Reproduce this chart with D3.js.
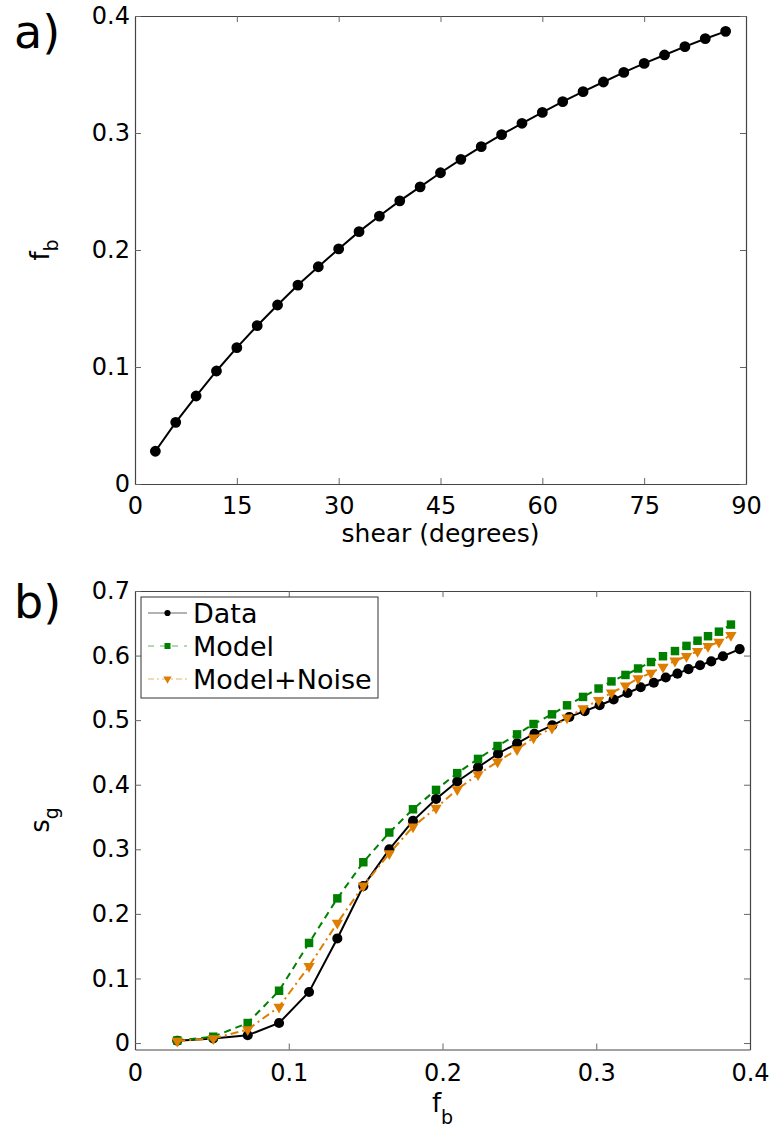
<!DOCTYPE html>
<html>
<head>
<meta charset="utf-8">
<script src="https://cdn.jsdelivr.net/npm/d3@7"></script>
<style>
    body { margin: 0; background: #fff; }
    svg text { font-family: "DejaVu Sans", sans-serif; fill: #000; }
</style>
</head>
<body>
<div id="chart"></div>
<script>
// ---- panel a) : f_b against shear ----
const shearDeg = [3, 6, 9, 12, 15, 18, 21, 24, 27, 30, 33, 36, 39, 42, 45, 48, 51, 54, 57, 60, 63, 66, 69, 72, 75, 78, 81, 84, 87];
const fbShear = [0.028, 0.0527, 0.0752, 0.0966, 0.1165, 0.1353, 0.153, 0.170, 0.1857, 0.2009, 0.2157, 0.229, 0.242, 0.254, 0.266,
    0.2775, 0.2883, 0.2986, 0.3083, 0.3176, 0.3268, 0.3353, 0.3436, 0.3518, 0.3595, 0.3667, 0.3738, 0.3806, 0.3869];
const shearTicks = [0, 15, 30, 45, 60, 75, 90];
const fbTicksA = [0, 0.1, 0.2, 0.3, 0.4];

// ---- panel b) : s_g against f_b ----
const fbData = [0.0275, 0.0509, 0.0733, 0.0937, 0.1132, 0.1316, 0.1485, 0.1654, 0.1808, 0.1958, 0.2096, 0.2231, 0.2361, 0.2485, 0.2598,
    0.2714, 0.2825, 0.2925, 0.3022, 0.3113, 0.3203, 0.3289, 0.3374, 0.3452, 0.3528, 0.36, 0.3675, 0.3748, 0.3824, 0.3933];
const fbModel = [0.0275, 0.0509, 0.0733, 0.0937, 0.1132, 0.1316, 0.1485, 0.1654, 0.1808, 0.1958, 0.2096, 0.2231, 0.2358, 0.2485, 0.2592,
    0.2712, 0.281, 0.2914, 0.3015, 0.3099, 0.319, 0.3272, 0.3356, 0.3434, 0.3512, 0.3587, 0.3659, 0.3727, 0.3798, 0.3876];
const sgData = [0.0036, 0.007, 0.012, 0.031, 0.079, 0.162, 0.243, 0.300, 0.344, 0.378, 0.405, 0.427, 0.448, 0.464, 0.479,
    0.492, 0.505, 0.514, 0.523, 0.532, 0.542, 0.551, 0.558, 0.566, 0.572, 0.579, 0.585, 0.591, 0.599, 0.610];
const sgModel = [0.004, 0.0098, 0.031, 0.081, 0.155, 0.224, 0.280, 0.326, 0.362, 0.392, 0.418, 0.440, 0.460, 0.478, 0.494,
    0.509, 0.523, 0.536, 0.549, 0.560, 0.570, 0.580, 0.590, 0.599, 0.607, 0.615, 0.623, 0.630, 0.637, 0.648];
const sgNoise = [0.003, 0.007, 0.021, 0.056, 0.119, 0.186, 0.2435, 0.2935, 0.335, 0.364, 0.3927, 0.416, 0.4355, 0.4546, 0.4727,
    0.488, 0.5036, 0.518, 0.531, 0.5423, 0.5531, 0.5646, 0.5732, 0.5825, 0.5918, 0.599, 0.6068, 0.6146, 0.621, 0.6316];
const fbTicksB = [0, 0.1, 0.2, 0.3, 0.4];
const sgTicks = [0, 0.1, 0.2, 0.3, 0.4, 0.5, 0.6, 0.7];
const seriesNames = ["Data", "Model", "Model+Noise"];

const width = 771;
const height = 1140;

const svg = d3.select("#chart")
    .append("svg")
    .attr("width", width)
    .attr("height", height);

// MATLAB style box with inward ticks on all four sides
function drawFrame(x, y, xTicks, yTicks, xPad) {
    let [x0, x1] = x.range();
    let [y0, y1] = y.range();

    svg.append("g")
        .attr("class", "axis")
        .attr("transform", "translate(0," + y0 + ")")
        .call(d3.axisBottom(x).tickValues(xTicks).tickSize(-6).tickSizeOuter(0).tickPadding(xPad).tickFormat(d => d));
    svg.append("g")
        .attr("class", "axis")
        .attr("transform", "translate(0," + y1 + ")")
        .call(d3.axisTop(x).tickValues(xTicks).tickSize(-6).tickSizeOuter(0).tickFormat(""));
    svg.append("g")
        .attr("class", "axis")
        .attr("transform", "translate(" + x0 + ",0)")
        .call(d3.axisLeft(y).tickValues(yTicks).tickSize(-6).tickSizeOuter(0).tickPadding(5).tickFormat(d => d));
    svg.append("g")
        .attr("class", "axis")
        .attr("transform", "translate(" + x1 + ",0)")
        .call(d3.axisRight(y).tickValues(yTicks).tickSize(-6).tickSizeOuter(0).tickFormat(""));

    svg.selectAll(".axis path").attr("stroke", "#444").attr("stroke-width", 1.2);
    svg.selectAll(".axis line").attr("stroke", "#666").attr("stroke-width", 1);
    svg.selectAll(".axis text")
        .attr("font-family", "DejaVu Sans, sans-serif")
        .attr("font-size", 24)
        .attr("fill", "#000");
}

function drawSeries(x, y, xs, ys, opt) {
    let pts = xs.map((d, i) => [d, ys[i]]);
    svg.append("path")
        .datum(pts)
        .attr("fill", "none")
        .attr("stroke", opt.color)
        .attr("stroke-width", opt.lineWidth)
        .attr("stroke-dasharray", opt.dash)
        .attr("d", d3.line().x(d => x(d[0])).y(d => y(d[1])));

    svg.append("g")
        .selectAll("path")
        .data(pts)
        .join("path")
        .attr("transform", d => "translate(" + x(d[0]) + "," + y(d[1]) + ")" + (opt.flip ? " rotate(180)" : ""))
        .attr("d", d3.symbol(opt.symbol, opt.size))
        .attr("fill", opt.color);
}

function drawPanelA() {
    let x = d3.scaleLinear().domain([0, 90]).range([135, 746]);
    let y = d3.scaleLinear().domain([0, 0.4]).range([484, 16]);

    drawFrame(x, y, shearTicks, fbTicksA, 13);

    drawSeries(x, y, shearDeg, fbShear,
        { color: "#000", lineWidth: 2, dash: null, symbol: d3.symbolCircle, size: 92 });

    svg.append("text")
        .attr("x", (x.range()[0] + x.range()[1]) / 2)
        .attr("y", 542)
        .attr("text-anchor", "middle")
        .attr("font-size", 25)
        .text("shear (degrees)");

    let yl = svg.append("text")
        .attr("transform", "translate(49,250) rotate(-90)")
        .attr("text-anchor", "middle")
        .attr("font-size", 26);
    yl.append("tspan").text("f");
    yl.append("tspan").attr("dy", 9).attr("font-size", 19).text("b");

    svg.append("text")
        .attr("x", 14)
        .attr("y", 48)
        .attr("font-size", 46)
        .text("a)");
}

function drawPanelB() {
    let x = d3.scaleLinear().domain([0, 0.4]).range([135, 750]);
    let y = d3.scaleLinear().domain([-0.01, 0.7]).range([1049.5, 591]);

    drawFrame(x, y, fbTicksB, sgTicks, 14);

    let styles = [
        { color: "#000", lineWidth: 2, dash: null, symbol: d3.symbolCircle, size: 80, flip: false },
        { color: "#008000", lineWidth: 2, dash: "7,5", symbol: d3.symbolSquare, size: 72, flip: false },
        { color: "rgb(222,125,0)", lineWidth: 2, dash: "8,4,2,4", symbol: d3.symbolTriangle, size: 55, flip: true }
    ];

    drawSeries(x, y, fbData, sgData, styles[0]);
    drawSeries(x, y, fbModel, sgModel, styles[1]);
    drawSeries(x, y, fbModel, sgNoise, styles[2]);

    // legend
    let legend = svg.append("g").attr("class", "legend");
    legend.append("rect")
        .attr("x", 141)
        .attr("y", 597)
        .attr("width", 237)
        .attr("height", 101)
        .attr("fill", "#fff")
        .attr("stroke", "#333")
        .attr("stroke-width", 1);

    let legendSizes = [30, 36, 30];
    seriesNames.forEach(function (name, i) {
        let base = 623 + i * 33;
        let st = styles[i];
        legend.append("line")
            .attr("x1", 148).attr("x2", 187)
            .attr("y1", base - 10).attr("y2", base - 10)
            .attr("stroke", st.color)
            .attr("stroke-opacity", 0.6)
            .attr("stroke-width", 1)
            .attr("stroke-dasharray", i == 0 ? null : (i == 1 ? "6,6" : "6,3,2,3"));
        legend.append("path")
            .attr("transform", "translate(167.5," + (base - 10) + ")" + (st.flip ? " rotate(180)" : ""))
            .attr("d", d3.symbol(st.symbol, legendSizes[i]))
            .attr("fill", st.color);
        legend.append("text")
            .attr("x", 193)
            .attr("y", base)
            .attr("font-size", 27)
            .text(name);
    });

    let xl = svg.append("text")
        .attr("x", (x.range()[0] + x.range()[1]) / 2)
        .attr("y", 1112)
        .attr("text-anchor", "middle")
        .attr("font-size", 26);
    xl.append("tspan").text("f");
    xl.append("tspan").attr("dy", 12).attr("font-size", 19).text("b");

    let yl = svg.append("text")
        .attr("transform", "translate(49,820) rotate(-90)")
        .attr("text-anchor", "middle")
        .attr("font-size", 26);
    yl.append("tspan").text("s");
    yl.append("tspan").attr("dy", 9).attr("font-size", 19).text("g");

    svg.append("text")
        .attr("x", 14)
        .attr("y", 618)
        .attr("font-size", 46)
        .text("b)");
}

drawPanelA();
drawPanelB();
</script>
</body>
</html>
